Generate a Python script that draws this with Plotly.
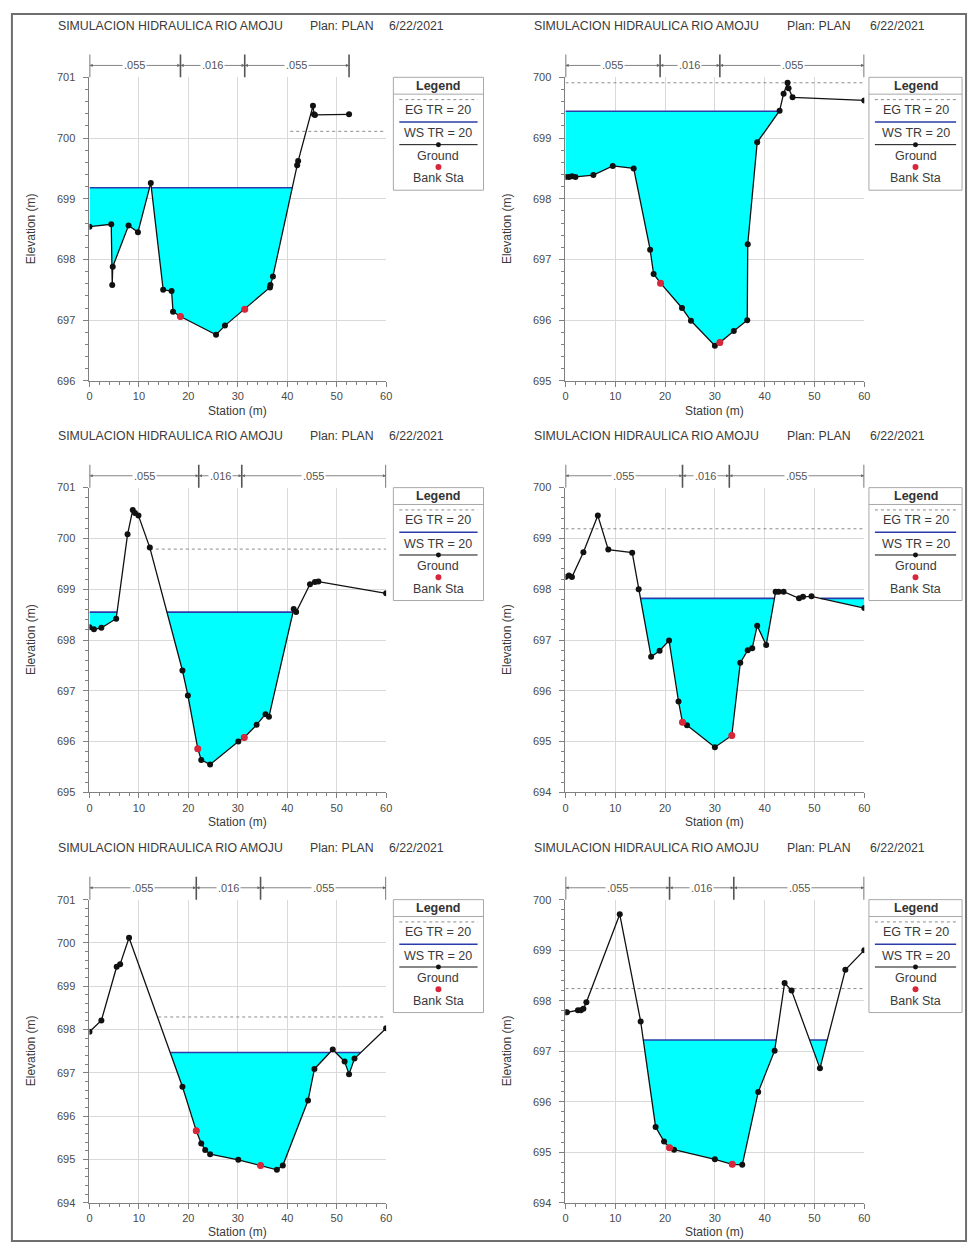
import plotly.graph_objects as go
import numpy as np

W, H = 976, 1252

# ---------------- data ----------------
title_main = "SIMULACION HIDRAULICA RIO AMOJU"
title_plan = "Plan: PLAN"
title_date = "6/22/2021"
n_values = [".055", ".016", ".055"]
legend_title = "Legend"
legend_labels = ["EG TR = 20", "WS TR = 20", "Ground", "Bank Sta"]
x_title = "Station (m)"
y_title = "Elevation (m)"

p1_station = [0, 4.4, 4.6, 4.7, 7.9, 9.8, 12.4, 14.9, 16.6, 16.9, 18.4, 25.6, 27.4, 31.4, 36.5, 36.6, 37.1, 42.0, 42.2, 45.2, 45.4, 45.6, 52.5]
p1_ground = [698.54, 698.58, 697.58, 697.88, 698.56, 698.45, 699.26, 697.50, 697.48, 697.14, 697.06, 696.76, 696.91, 697.18, 697.54, 697.58, 697.72, 699.55, 699.62, 700.53, 700.39, 700.38, 700.39]
p1_ws, p1_eg = 699.18, 700.11
p1_eg_extent = [40.6, 60]
p1_banks = [18.4, 31.4]
p1_n_bounds = [0, 18.4, 31.4, 52.5]
p1_yrange = [696, 701]

p2_station = [0, 0.7, 1.3, 2.0, 5.6, 9.5, 13.7, 17.0, 17.7, 19.1, 23.4, 25.2, 30.0, 31.0, 33.8, 36.5, 36.6, 38.5, 43.0, 43.8, 44.6, 44.8, 45.6, 60.0]
p2_ground = [698.36, 698.36, 698.37, 698.36, 698.39, 698.54, 698.50, 697.16, 696.76, 696.61, 696.20, 695.99, 695.58, 695.63, 695.82, 696.00, 697.25, 698.93, 699.45, 699.73, 699.91, 699.82, 699.67, 699.62]
p2_ws, p2_eg = 699.44, 699.91
p2_eg_extent = [0, 60]
p2_banks = [19.1, 31.0]
p2_n_bounds = [0, 19.0, 31.0, 60]
p2_yrange = [695, 700]

p3_station = [0, 0.9, 2.4, 5.4, 7.7, 8.75, 9.2, 9.9, 12.2, 18.8, 19.9, 21.9, 22.6, 24.4, 30.1, 31.3, 33.8, 35.6, 36.3, 41.3, 41.8, 44.6, 45.6, 46.3, 60]
p3_ground = [698.25, 698.21, 698.24, 698.42, 700.08, 700.56, 700.50, 700.45, 699.82, 697.40, 696.91, 695.86, 695.64, 695.55, 696.00, 696.08, 696.33, 696.54, 696.49, 698.61, 698.55, 699.10, 699.14, 699.15, 698.92]
p3_ws, p3_eg = 698.55, 699.79
p3_eg_extent = [12.2, 60]
p3_banks = [21.9, 31.3]
p3_n_bounds = [0, 22.1, 30.8, 60]
p3_yrange = [695, 701]

p4_station = [0, 0.7, 1.3, 3.6, 6.5, 8.6, 13.4, 14.7, 17.2, 18.9, 20.8, 22.7, 23.5, 24.4, 30.0, 33.4, 35.1, 36.6, 37.5, 38.5, 40.3, 42.2, 42.8, 43.8, 46.9, 47.7, 49.4, 60]
p4_ground = [698.24, 698.27, 698.24, 698.73, 699.45, 698.78, 698.72, 698.00, 696.67, 696.79, 696.99, 695.79, 695.38, 695.32, 694.89, 695.12, 696.55, 696.80, 696.84, 697.28, 696.90, 697.95, 697.95, 697.95, 697.82, 697.85, 697.86, 697.63]
p4_ws, p4_eg = 697.82, 699.19
p4_eg_extent = [0, 60]
p4_banks = [23.5, 33.4]
p4_n_bounds = [0, 23.5, 32.9, 60]
p4_yrange = [694, 700]

p5_station = [0, 2.4, 5.5, 6.2, 8.0, 18.8, 21.6, 22.6, 23.4, 24.4, 30.1, 34.6, 37.9, 39.1, 44.2, 45.5, 49.2, 51.6, 52.5, 53.6, 60]
p5_ground = [697.95, 698.21, 699.45, 699.51, 700.12, 696.68, 695.66, 695.37, 695.22, 695.12, 694.99, 694.86, 694.76, 694.86, 696.36, 697.09, 697.54, 697.26, 696.97, 697.33, 698.03]
p5_ws, p5_eg = 697.47, 698.29
p5_eg_extent = [13.9, 60]
p5_banks = [21.6, 34.6]
p5_n_bounds = [0, 21.6, 34.6, 60]
p5_yrange = [694, 701]

p6_station = [0, 0.3, 2.5, 3.1, 3.6, 4.2, 10.9, 15.1, 18.1, 19.8, 20.9, 21.8, 30.0, 33.5, 35.5, 38.7, 42.0, 44.0, 45.4, 51.1, 56.2, 60]
p6_ground = [697.77, 697.77, 697.81, 697.81, 697.84, 697.97, 699.71, 697.59, 695.50, 695.21, 695.09, 695.05, 694.86, 694.76, 694.75, 696.19, 697.01, 698.35, 698.20, 696.66, 698.61, 699.00]
p6_ws, p6_eg = 697.22, 698.24
p6_eg_extent = [0, 60]
p6_banks = [20.9, 33.5]
p6_n_bounds = [0, 20.9, 33.8, 60]
p6_yrange = [694, 700]

panels = [
    dict(st=p1_station, g=p1_ground, ws=p1_ws, eg=p1_eg, egx=p1_eg_extent, banks=p1_banks, nb=p1_n_bounds, yr=p1_yrange),
    dict(st=p2_station, g=p2_ground, ws=p2_ws, eg=p2_eg, egx=p2_eg_extent, banks=p2_banks, nb=p2_n_bounds, yr=p2_yrange),
    dict(st=p3_station, g=p3_ground, ws=p3_ws, eg=p3_eg, egx=p3_eg_extent, banks=p3_banks, nb=p3_n_bounds, yr=p3_yrange),
    dict(st=p4_station, g=p4_ground, ws=p4_ws, eg=p4_eg, egx=p4_eg_extent, banks=p4_banks, nb=p4_n_bounds, yr=p4_yrange),
    dict(st=p5_station, g=p5_ground, ws=p5_ws, eg=p5_eg, egx=p5_eg_extent, banks=p5_banks, nb=p5_n_bounds, yr=p5_yrange),
    dict(st=p6_station, g=p6_ground, ws=p6_ws, eg=p6_eg, egx=p6_eg_extent, banks=p6_banks, nb=p6_n_bounds, yr=p6_yrange),
]

# ---------------- layout helpers ----------------
FONT = "Liberation Sans, Arial, sans-serif"
TXT = "#3a3a3a"
AX = "#808080"
GRID = "#d9d9d9"
CYAN = "#00FFFF"
WSC = "#2a3caa"
RED = "#d8263a"

def pxx(x):
    return x / W

def pxy(y):
    return 1 - y / H

cols = [(87.3, 386.7), (567.7, 869.3)]
rows = [(72.0, 378.5), (486.3, 794.0), (902.3, 1208.3)]
legend_cols = [(394, 485), (874, 968)]
title_x = [(53, 308, 388), (534, 789, 873)]


def wet_profile(st, g, ws):
    xs, lo, wl = [], [], []
    for i in range(len(st)):
        if i > 0:
            g0, g1 = g[i - 1], g[i]
            if (g0 - ws) * (g1 - ws) < 0:
                t = (ws - g0) / (g1 - g0)
                xc = st[i - 1] + t * (st[i] - st[i - 1])
                xs.append(xc); lo.append(ws); wl.append(ws)
        xs.append(st[i]); lo.append(min(g[i], ws)); wl.append(ws if g[i] <= ws else None)
    return xs, lo, wl


def note(x, y, text, size, color=TXT, **kw):
    d = dict(x=x, y=y, xref="paper", yref="paper", text=text, showarrow=False,
             xanchor="center", yanchor="middle", font=dict(family=FONT, size=size, color=color))
    d.update(kw)
    return d


fig = go.Figure()
shapes = []
annotations = []
layout_axes = {}

for i, p in enumerate(panels):
    r, c = divmod(i, 2)
    n = i + 1
    xa = "x" if n == 1 else f"x{n}"
    ya = "y" if n == 1 else f"y{n}"
    xl, xr = cols[c]
    yt, yb = rows[r]

    xs, lo, wl = wet_profile(p["st"], p["g"], p["ws"])
    common = dict(xaxis=xa, yaxis=ya, hoverinfo="skip", showlegend=False)
    fig.add_trace(go.Scatter(x=xs, y=[p["ws"]] * len(xs), mode="lines", line=dict(width=0), **common))
    fig.add_trace(go.Scatter(x=xs, y=lo, mode="lines", fill="tonexty", fillcolor=CYAN, line=dict(width=0), **common))
    fig.add_trace(go.Scatter(x=p["egx"], y=[p["eg"], p["eg"]], mode="lines",
                             line=dict(color="#8c8c8c", width=1, dash="dot"), **common))
    fig.add_trace(go.Scatter(x=xs, y=wl, mode="lines", line=dict(color=WSC, width=1.6), connectgaps=False, **common))
    fig.add_trace(go.Scatter(x=p["st"], y=p["g"], mode="lines+markers",
                             line=dict(color="#111", width=1.3), marker=dict(color="#111", size=6), **common))
    fig.add_trace(go.Scatter(x=p["banks"], y=list(np.interp(p["banks"], p["st"], p["g"])), mode="markers",
                             marker=dict(color=RED, size=7), **common))

    axis_key_x = "xaxis" if n == 1 else f"xaxis{n}"
    axis_key_y = "yaxis" if n == 1 else f"yaxis{n}"
    layout_axes[axis_key_x] = dict(
        domain=[pxx(xl), pxx(xr)], anchor=ya, range=[0, 60], dtick=10, tick0=0,
        showgrid=True, gridcolor=GRID, gridwidth=1, zeroline=False,
        showline=True, linecolor=AX, linewidth=1, ticks="outside", ticklen=5, tickcolor=AX,
        minor=dict(dtick=2, ticks="outside", ticklen=3, tickcolor=AX, showgrid=False),
        tickfont=dict(family=FONT, size=11, color="#4a4a4a"), fixedrange=True)
    layout_axes[axis_key_y] = dict(
        domain=[pxy(yb), pxy(yt)], anchor=xa, range=p["yr"], dtick=1,
        showgrid=True, gridcolor=GRID, gridwidth=1, zeroline=False,
        showline=True, linecolor=AX, linewidth=1, ticks="outside", ticklen=5, tickcolor=AX,
        minor=dict(dtick=0.2, ticks="outside", ticklen=3, tickcolor=AX, showgrid=False),
        tickfont=dict(family=FONT, size=11, color="#4a4a4a"), ticklabelstandoff=6, fixedrange=True)

    # titles
    tx = title_x[c]
    for txt, xpos in zip([title_main, title_plan, title_date], tx):
        annotations.append(note(pxx(xpos), pxy(yt - 52), txt, 12.3, xanchor="left"))
    # axis titles
    annotations.append(note(pxx((xl + xr) / 2), pxy(yb + 30), x_title, 12))
    annotations.append(note(pxx(xl - 59), pxy((yt + yb) / 2), y_title, 12, textangle=-90))

    # n-value bracket
    ph = yb - yt
    yline = 1 + 12 / ph
    ytick_top = 1 + 23 / ph
    nb = p["nb"]
    for b in nb:
        shapes.append(dict(type="line", xref=xa, yref=f"{ya} domain", x0=b, x1=b, y0=1.0, y1=ytick_top,
                           line=dict(color="#555", width=1.6)))
    for k in range(len(nb) - 1):
        m = (nb[k] + nb[k + 1]) / 2
        for end in (nb[k], nb[k + 1]):
            annotations.append(dict(x=end, y=yline, xref=xa, yref=f"{ya} domain", ax=m, ay=0,
                                    axref=xa, ayref="pixel", text="", showarrow=True,
                                    arrowhead=2, arrowsize=0.8, arrowwidth=0.8, arrowcolor="#666", standoff=0))
        annotations.append(dict(x=m, y=yline, xref=xa, yref=f"{ya} domain", text=n_values[k],
                                showarrow=False, bgcolor="white", borderpad=1,
                                xanchor="center", yanchor="middle",
                                font=dict(family=FONT, size=11, color="#555")))

    # legend box (drawn manually)
    lx0, lx1 = legend_cols[c]
    shapes.append(dict(type="rect", xref="paper", yref="paper", x0=pxx(lx0), x1=pxx(lx1),
                       y0=pxy(yt + 114), y1=pxy(yt), line=dict(color="#a8a8a8", width=1)))
    shapes.append(dict(type="line", xref="paper", yref="paper", x0=pxx(lx0), x1=pxx(lx1),
                       y0=pxy(yt + 17), y1=pxy(yt + 17), line=dict(color="#a8a8a8", width=1)))
    sx0, sx1 = lx0 + 6, lx1 - 6
    shapes.append(dict(type="line", xref="paper", yref="paper", x0=pxx(sx0), x1=pxx(sx1),
                       y0=pxy(yt + 22.5), y1=pxy(yt + 22.5), line=dict(color="#8c8c8c", width=1, dash="dot")))
    shapes.append(dict(type="line", xref="paper", yref="paper", x0=pxx(sx0), x1=pxx(sx1),
                       y0=pxy(yt + 45), y1=pxy(yt + 45), line=dict(color=WSC, width=1.5)))
    shapes.append(dict(type="line", xref="paper", yref="paper", x0=pxx(sx0), x1=pxx(sx1),
                       y0=pxy(yt + 68), y1=pxy(yt + 68), line=dict(color="#111", width=1)))
    cx = (lx0 + lx1) / 2
    shapes.append(dict(type="circle", xref="paper", yref="paper", x0=pxx(cx - 2.5), x1=pxx(cx + 2.5),
                       y0=pxy(yt + 70.5), y1=pxy(yt + 65.5), fillcolor="#111", line=dict(width=0)))
    shapes.append(dict(type="circle", xref="paper", yref="paper", x0=pxx(cx - 3), x1=pxx(cx + 3),
                       y0=pxy(yt + 93.5), y1=pxy(yt + 87.5), fillcolor=RED, line=dict(width=0)))
    annotations.append(note(pxx(cx), pxy(yt + 8.5), f"<b>{legend_title}</b>", 12.5, color="#333"))
    for lbl, off in zip(legend_labels, [33, 56.5, 79, 102]):
        annotations.append(note(pxx(cx), pxy(yt + off), lbl, 12.5))

# outer frame
shapes.append(dict(type="rect", xref="paper", yref="paper", x0=pxx(9), x1=pxx(972), y0=pxy(1247), y1=pxy(8),
                   line=dict(color="#6e6e6e", width=2)))

fig.update_layout(
    width=W, height=H, autosize=False,
    margin=dict(l=0, r=0, t=0, b=0),
    paper_bgcolor="white", plot_bgcolor="white",
    showlegend=False,
    shapes=shapes, annotations=annotations,
    **layout_axes,
)

fig.write_html("out.html")
